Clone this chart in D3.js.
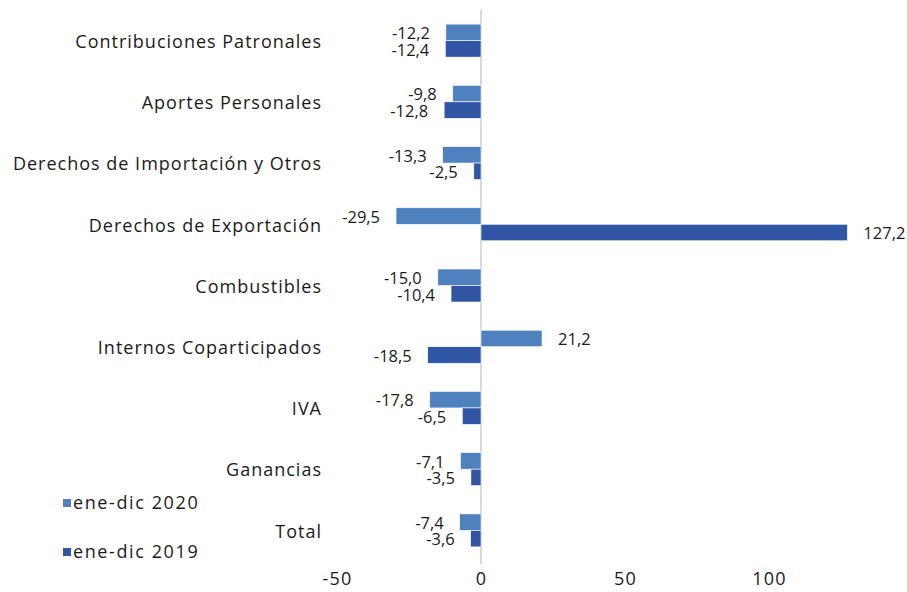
<!DOCTYPE html>
<html>
<head>
<meta charset="utf-8">
<script src="https://cdn.jsdelivr.net/npm/d3@7"></script>
<style>
  body { margin: 0; background: #fff; }
  svg text { font-family: "Open Sans", sans-serif; fill: #1a1a1a; }
</style>
</head>
<body>
<svg id="chart" width="907" height="592"></svg>
<script>
// categories top to bottom
let categories = [
  "Contribuciones Patronales",
  "Aportes Personales",
  "Derechos de Importación y Otros",
  "Derechos de Exportación",
  "Combustibles",
  "Internos Coparticipados",
  "IVA",
  "Ganancias",
  "Total"
];
let series_names = ["ene-dic 2020", "ene-dic 2019"];
let values_2020 = [-12.2, -9.8, -13.3, -29.5, -15.0, 21.2, -17.8, -7.1, -7.4];
let values_2019 = [-12.4, -12.8, -2.5, 127.2, -10.4, -18.5, -6.5, -3.5, -3.6];
let x_ticks = [-50, 0, 50, 100];
let colors = ["#4F81BF", "#2F55A4"];

let svg = d3.select("#chart");

let x = d3.scaleLinear().domain([-50, 150]).range([337, 913]);
let y = d3.scaleBand().domain(categories).range([10, 561]);
let inner = d3.scaleBand().domain(series_names).range([0, 33]);
let bar_offset = (y.bandwidth() - 33) / 2;

// comma decimals, plain hyphen for the sign
let fmt = v => v.toFixed(1).replace(".", ",");

let data = [];
categories.forEach((c, i) => {
  data.push({cat: c, series: series_names[0], value: values_2020[i], color: colors[0]});
  data.push({cat: c, series: series_names[1], value: values_2019[i], color: colors[1]});
});

// zero line
svg.append("line")
  .attr("x1", x(0)).attr("x2", x(0))
  .attr("y1", 10).attr("y2", 564)
  .attr("stroke", "#d9d9d9")
  .attr("stroke-width", 2);

// bars
svg.selectAll("rect.bar")
  .data(data)
  .enter().append("rect")
    .attr("class", "bar")
    .attr("x", d => Math.min(x(0), x(d.value)))
    .attr("y", d => y(d.cat) + bar_offset + inner(d.series))
    .attr("width", d => Math.abs(x(d.value) - x(0)))
    .attr("height", inner.bandwidth())
    .attr("fill", d => d.color)
    .attr("stroke", "#fff")
    .attr("stroke-width", 0.6);

// value labels
svg.selectAll("text.val")
  .data(data)
  .enter().append("text")
    .attr("class", "val")
    .attr("x", d => d.value < 0 ? x(d.value) - 16 : x(d.value) + 16)
    .attr("y", d => y(d.cat) + bar_offset + inner(d.series) + inner.bandwidth() / 2 + 1)
    .attr("dy", "0.35em")
    .attr("text-anchor", d => d.value < 0 ? "end" : "start")
    .style("font-size", "16.5px")
    .text(d => fmt(d.value));

// category labels
svg.selectAll("text.cat")
  .data(categories)
  .enter().append("text")
    .attr("class", "cat")
    .attr("x", 322)
    .attr("y", d => y(d) + y.bandwidth() / 2 + 1)
    .attr("dy", "0.35em")
    .attr("text-anchor", "end")
    .style("font-size", "18px")
    .style("letter-spacing", "1px")
    .text(d => d);

// x axis
let x_axis = svg.append("g")
  .attr("transform", "translate(0,566)")
  .call(d3.axisBottom(x).tickValues(x_ticks).tickSize(0).tickPadding(6).tickFormat(d => d));
x_axis.select(".domain").remove();
x_axis.selectAll("text")
  .style("font-size", "18px")
  .style("letter-spacing", "1.2px")
  .style("font-family", "'Open Sans', sans-serif")
  .attr("fill", "#1a1a1a");

// legend
let legend = svg.selectAll("g.legend")
  .data(series_names)
  .enter().append("g")
    .attr("class", "legend")
    .attr("transform", (d, i) => "translate(63," + (503 + i * 49) + ")");
legend.append("rect")
  .attr("x", 0).attr("y", -4)
  .attr("width", 8).attr("height", 8)
  .attr("fill", (d, i) => colors[i]);
legend.append("text")
  .attr("x", 10)
  .attr("y", 0)
  .attr("dy", "0.35em")
  .style("font-size", "18px")
  .style("letter-spacing", "1.6px")
  .text(d => d);
</script>
</body>
</html>
